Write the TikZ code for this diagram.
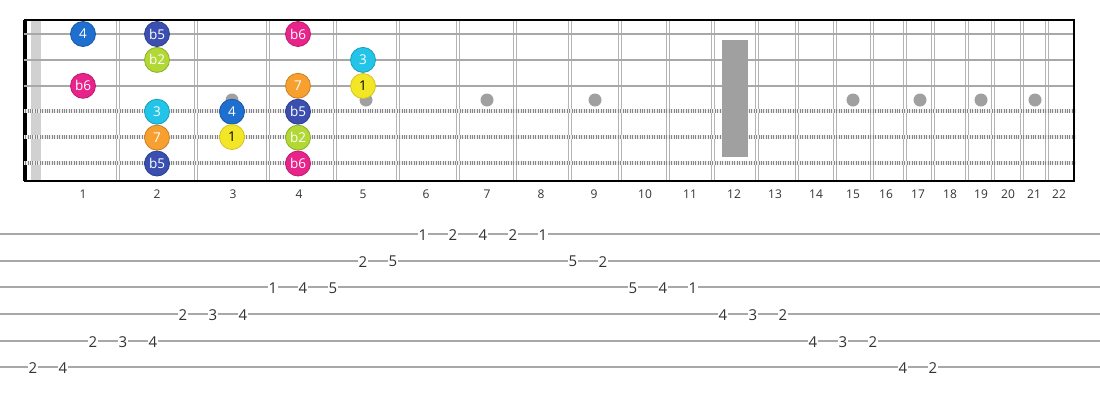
\documentclass[tikz,border=0pt]{standalone}
\usepackage{fontspec}
\setmainfont{Open Sans}
\usepackage{tikz}

\definecolor{cfour}{HTML}{1E6FD0}
\definecolor{cbfive}{HTML}{3A4FB0}
\definecolor{cbsix}{HTML}{E8238A}
\definecolor{cbtwo}{HTML}{B2D835}
\definecolor{cthree}{HTML}{22C4E8}
\definecolor{cseven}{HTML}{F7A030}
\definecolor{cone}{HTML}{F3E626}
\definecolor{fretgray}{HTML}{B4B4B4}
\definecolor{strgray}{HTML}{A8A8A8}
\definecolor{dotgray}{HTML}{A0A0A0}
\definecolor{inkgray}{HTML}{333333}

\begin{document}
\begin{tikzpicture}[
		x=1pt, y=-1pt,
		notenode/.style={circle, minimum size=25pt, inner sep=0pt, font=\fontsize{13.5}{13.5}\selectfont, text=white},
		fretnum/.style={font=\fontsize{12}{12}\selectfont, text=inkgray, inner sep=0pt},
		tabnum/.style={font=\fontsize{15}{15}\selectfont, text=inkgray, fill=white, inner sep=1pt}
	]

	\useasboundingbox (0, 0) rectangle (1100, 400);

	\def \top {20}
	\def \bot {181}
	\def \tabtop {234}
	\def \tabdy {26.67}

	% frets (double wires)
	\foreach \p in {118, 196, 268, 335, 398, 458, 515, 570, 620, 668, 713, 757, 797, 835, 872, 905, 933, 967, 993, 1022, 1047} {
			\draw[color=fretgray, line width=1.2pt] (\p - 1.8, \top) -- (\p - 1.8, \bot);
			\draw[color=fretgray, line width=1.2pt] (\p + 1.8, \top) -- (\p + 1.8, \bot);
		}

	% nut
	\fill[color=black!18] (31, \top) rectangle (41, \bot);
	\fill[color=black] (23, \top) rectangle (27, \bot);

	% strings
	\foreach \i/\y in {1/34, 2/60, 3/86} {
			\coordinate (s-\i-a) at (24, \y);
			\coordinate (s-\i-b) at (1075, \y);
			\draw[color=strgray, line width=2.2pt] (s-\i-a) -- (s-\i-b);
		}
	\foreach \i/\y in {4/111, 5/137, 6/163} {
			\coordinate (s-\i-a) at (24, \y);
			\coordinate (s-\i-b) at (1075, \y);
			\draw[color=strgray!80!black, line width=4pt] (s-\i-a) -- (s-\i-b);
			\draw[color=white!85!gray, line width=4pt, dash pattern=on 0.8pt off 0.9pt] (s-\i-a) -- (s-\i-b);
		}

	% frame
	\draw[line width=2pt] (24, \top) -- (1074, \top) -- (1074, \bot) -- (24, \bot);

	% inlays
	\foreach \p in {232, 366, 487, 595, 853, 920, 981, 1035} {
			\fill[color=dotgray] (\p, 100) circle (6.5);
		}
	\fill[color=dotgray] (722, 40) rectangle (748, 157);

	% fret numbers
	\foreach \p [count=\n] in {83, 157, 233, 299, 363, 426, 487, 541, 594, 645, 690, 734, 775, 816, 853, 886, 918, 950, 981, 1008, 1034, 1059} {
			\node[fretnum] (f-\n) at (\p, 194) {\n};
		}

	% scale notes
	\foreach \s/\f/\x/\lab/\col in {
			1/1/83/4/cfour, 1/2/157/b5/cbfive, 1/4/298/b6/cbsix,
			2/2/157/b2/cbtwo, 2/5/363/3/cthree,
			3/1/83/b6/cbsix, 3/4/298/7/cseven,
			4/2/157/3/cthree, 4/3/232/4/cfour, 4/4/298/b5/cbfive,
			5/2/157/7/cseven, 5/4/298/b2/cbtwo,
			6/2/157/b5/cbfive, 6/4/298/b6/cbsix} {
			\node[notenode, fill=\col, draw=\col!80!black, line width=0.8pt] (n-\s-\f) at (\x, {34 + (\s - 1) * 25.9}) {\lab};
		}
	\node[notenode, fill=cone, draw=cone!85!black, line width=0.8pt, text=black] (n-3-5) at (363, 86) {1};
	\node[notenode, fill=cone, draw=cone!85!black, line width=0.8pt, text=black] (n-5-3) at (232, 137) {1};

	% tab staff
	\foreach \i in {1, ..., 6} {
			\coordinate (l-\i-a) at (0, {\tabtop + (\i - 1) * \tabdy});
			\coordinate (l-\i-b) at (1100, {\tabtop + (\i - 1) * \tabdy});
			\draw[color=strgray, line width=1.8pt] (l-\i-a) -- (l-\i-b);
		}

	\foreach \s/\f [count=\i from 0] in {6/2, 6/4, 5/2, 5/3, 5/4, 4/2, 4/3, 4/4, 3/1, 3/4, 3/5, 2/2, 2/5,
			1/1, 1/2, 1/4, 1/2, 1/1, 2/5, 2/2, 3/5, 3/4, 3/1, 4/4, 4/3, 4/2, 5/4, 5/3, 5/2, 6/4, 6/2} {
			\node[tabnum] (t-\i) at (33 + 30 * \i, {\tabtop + (\s - 1) * \tabdy + 1}) {\f};
		}

\end{tikzpicture}
\end{document}
